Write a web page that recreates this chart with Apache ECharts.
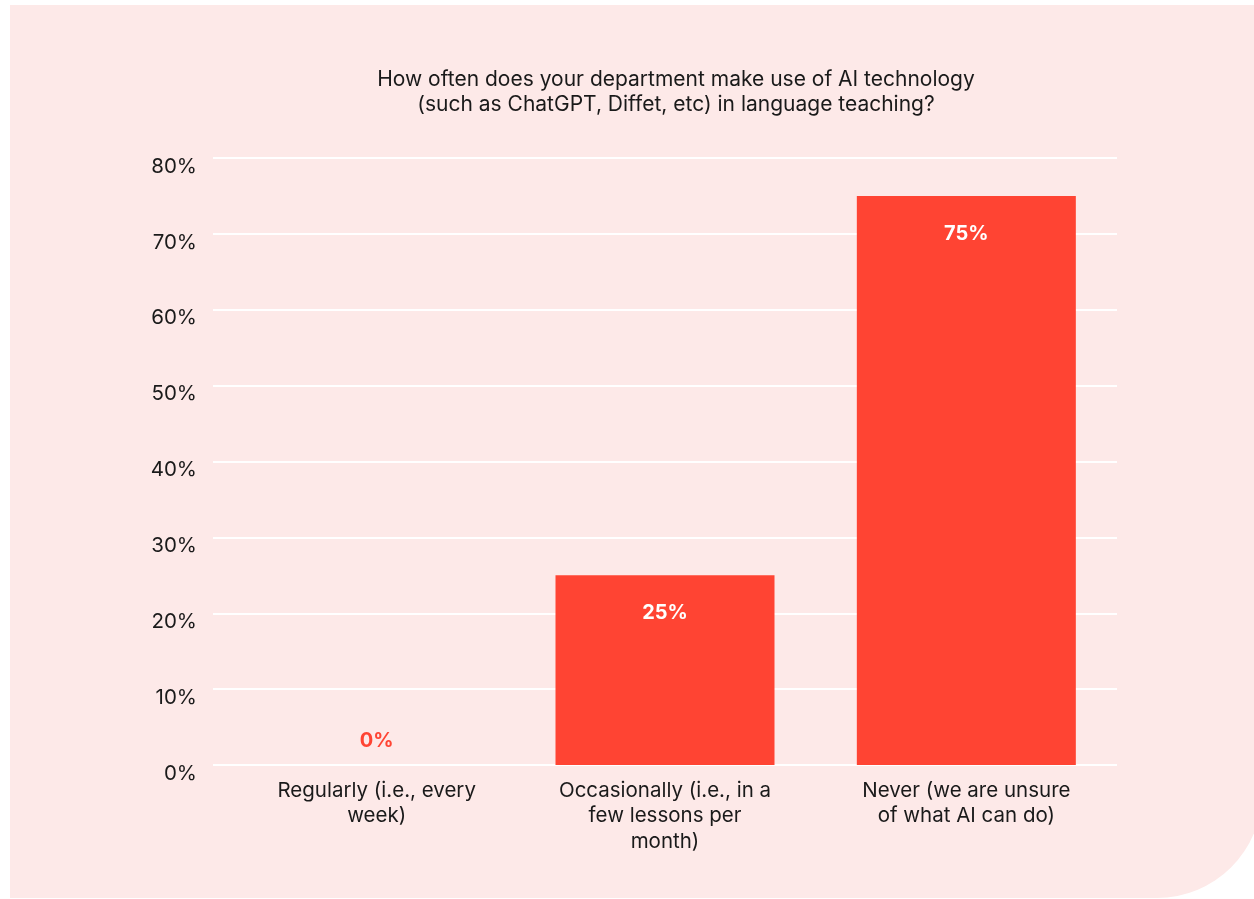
<!DOCTYPE html>
<html>
<head>
<meta charset="utf-8">
<script src="https://cdn.jsdelivr.net/npm/echarts@6/dist/echarts.min.js"></script>
<style>
html,body{margin:0;padding:0;background:#ffffff;}
#chart{width:1254px;height:899px;}
</style>
</head>
<body>
<div id="chart"></div>
<script>
// Survey answers and shares (percent)
const categories = [
  'Regularly (i.e., every\nweek)',
  'Occasionally (i.e., in a\nfew lessons per\nmonth)',
  'Never (we are unsure\nof what AI can do)'
];
const shares = [0, 25, 75];
const yTicks = [0, 10, 20, 30, 40, 50, 60, 70, 80];
const titleText = 'How often does your department make use of AI technology\n(such as ChatGPT, Diffet, etc) in language teaching?';

const FONT = 'Inter, "Noto Sans", sans-serif';
const RED = '#ff4433';
const PINK = '#fde9e8';
const INK = '#1a1a1a';

const chart = echarts.init(document.getElementById('chart'), null, {renderer: 'canvas'});

const barData = shares.map(v => {
  if (v === 0) {
    return {value: v, label: {position: 'top', distance: 14, offset: [13, 0], color: RED}};
  }
  return {value: v, label: {position: 'insideTop', distance: 28, color: '#ffffff'}};
});

chart.setOption({
  backgroundColor: '#ffffff',
  graphic: [{
    type: 'rect',
    z: -10,
    silent: true,
    shape: {x: 10, y: 5, width: 1252, height: 893, r: [0, 0, 105, 0]},
    style: {fill: PINK}
  }],
  title: {
    text: titleText,
    left: 671,
    top: 62,
    textAlign: 'center',
    textStyle: {fontFamily: FONT, fontSize: 21, fontWeight: 'normal', color: INK, lineHeight: 25}
  },
  grid: {left: 213, top: 158, width: 904, height: 607, containLabel: false},
  xAxis: {
    type: 'category',
    data: categories,
    axisLine: {show: false},
    axisTick: {show: false},
    axisLabel: {
      interval: 0,
      margin: 13,
      // the first answer's caption sits a little right of its column centre
      formatter: (v, i) => i === 0 ? '{shift|' + v.split('\n').join('}\n{shift|') + '}' : v,
      rich: {
        shift: {padding: [0, 0, 0, 26], fontFamily: FONT, fontSize: 20.5, color: INK, lineHeight: 25.5}
      },
      fontFamily: FONT, fontSize: 20.5, color: INK, lineHeight: 25.5
    }
  },
  yAxis: {
    type: 'value',
    min: yTicks[0],
    max: yTicks[yTicks.length - 1],
    interval: 10,
    axisLine: {show: false},
    axisTick: {show: false},
    splitLine: {lineStyle: {color: '#ffffff', width: 2}},
    axisLabel: {
      margin: 16,
      verticalAlign: 'top',
      lineHeight: 17,
      formatter: v => v + '%',
      fontFamily: FONT, fontSize: 20.5, color: INK
    }
  },
  series: [{
    type: 'bar',
    data: barData,
    barWidth: 219,
    itemStyle: {color: RED},
    label: {
      show: true,
      formatter: p => p.value + '%',
      fontFamily: FONT, fontSize: 20, fontWeight: 'bold'
    }
  }]
});
</script>
</body>
</html>
